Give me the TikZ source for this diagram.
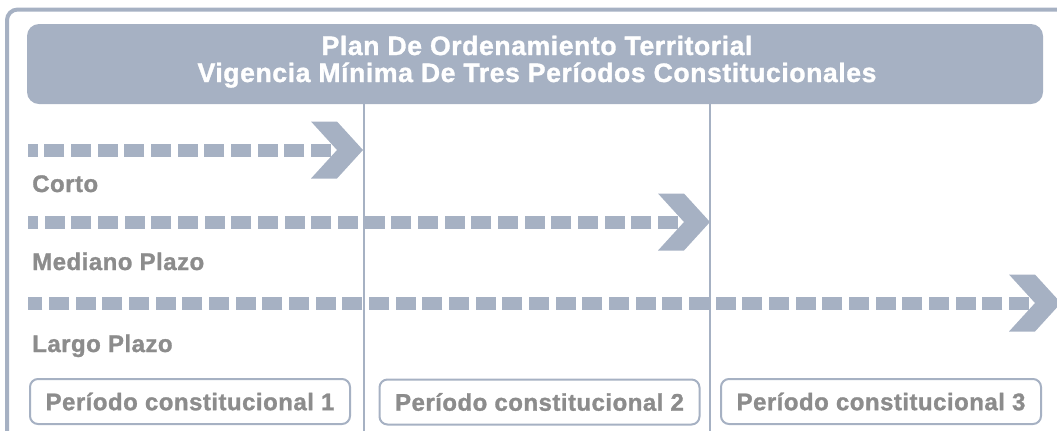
\documentclass[tikz,border=0pt]{standalone}
\usepackage{fontspec}
\setmainfont{Liberation Sans}
\newfontfamily\potfont[LetterSpace=2,FakeBold=1.2]{Liberation Sans Bold}
\usetikzlibrary{positioning}
\definecolor{potblue}{HTML}{A6B1C3}
\definecolor{potgray}{HTML}{8C8C8C}
\tikzset{
  titletext/.style={text=white, font=\potfont\fontsize{20}{20.25}\selectfont, align=center, inner sep=0pt},
  plazo/.style={text=potgray, font=\potfont\fontsize{18}{20}\selectfont, anchor=base west, inner sep=0pt},
  periodo/.style={draw=potblue, line width=1.5pt, rounded corners=6pt, fill=white,
    minimum width=240pt, minimum height=33.75pt, inner sep=0pt,
    text=potgray, font=\potfont\fontsize{18}{20}\selectfont},
  plazoline/.style={potblue, line width=9.75pt, dash pattern=on 15pt off 5pt},
}
\begin{document}
\begin{tikzpicture}[x=0.75pt,y=-0.75pt]
            \useasboundingbox (0,0) rectangle (1057,430);
            \clip (0,0) rectangle (1057,430);
            % outer frame and title bar
            \draw[potblue, line width=3pt, rounded corners=8pt] (7,9.5) rectangle (1120,480);
            \fill[potblue, rounded corners=9pt] (27,24) rectangle (1043,104);
            \node[titletext, anchor=base] (title) at (537,82) {Plan De Ordenamiento Territorial\\Vigencia Mínima De Tres Períodos Constitucionales};
            % period dividers
            \foreach \x in {364,710}
                \draw[potblue, line width=1.5pt] (\x,104) -- (\x,440);
            % arrows
            \foreach \name/\yy/\tip in {corto/150/363, mediano/222/710, largo/303/1061} {
                \coordinate (\name-start) at (28,\yy);
                \coordinate (\name-tip) at (\tip,\yy);
                \draw[plazoline] ([xshift=-24pt]\name-tip) -- (\name-start);
                \fill[potblue] (\name-tip) -- ++(-26,-28.5) -- ++(-26,0) -- ++(26,28.5)
                    -- ++(-26,28.5) -- ++(26,0) -- cycle;
            }
            \node[plazo] (corto) at (32,192) {Corto};
            \node[plazo] (mediano) at (32,270) {Mediano Plazo};
            \node[plazo] (largo) at (32,352) {Largo Plazo};
            % periods
            \node[periodo] (p1) at (190,401.5) {Período constitucional 1};
            \node[periodo] (p2) at (539.5,402) {Período constitucional 2};
            \node[periodo] (p3) at (881,401.5) {Período constitucional 3};
        \end{tikzpicture}
\end{document}
